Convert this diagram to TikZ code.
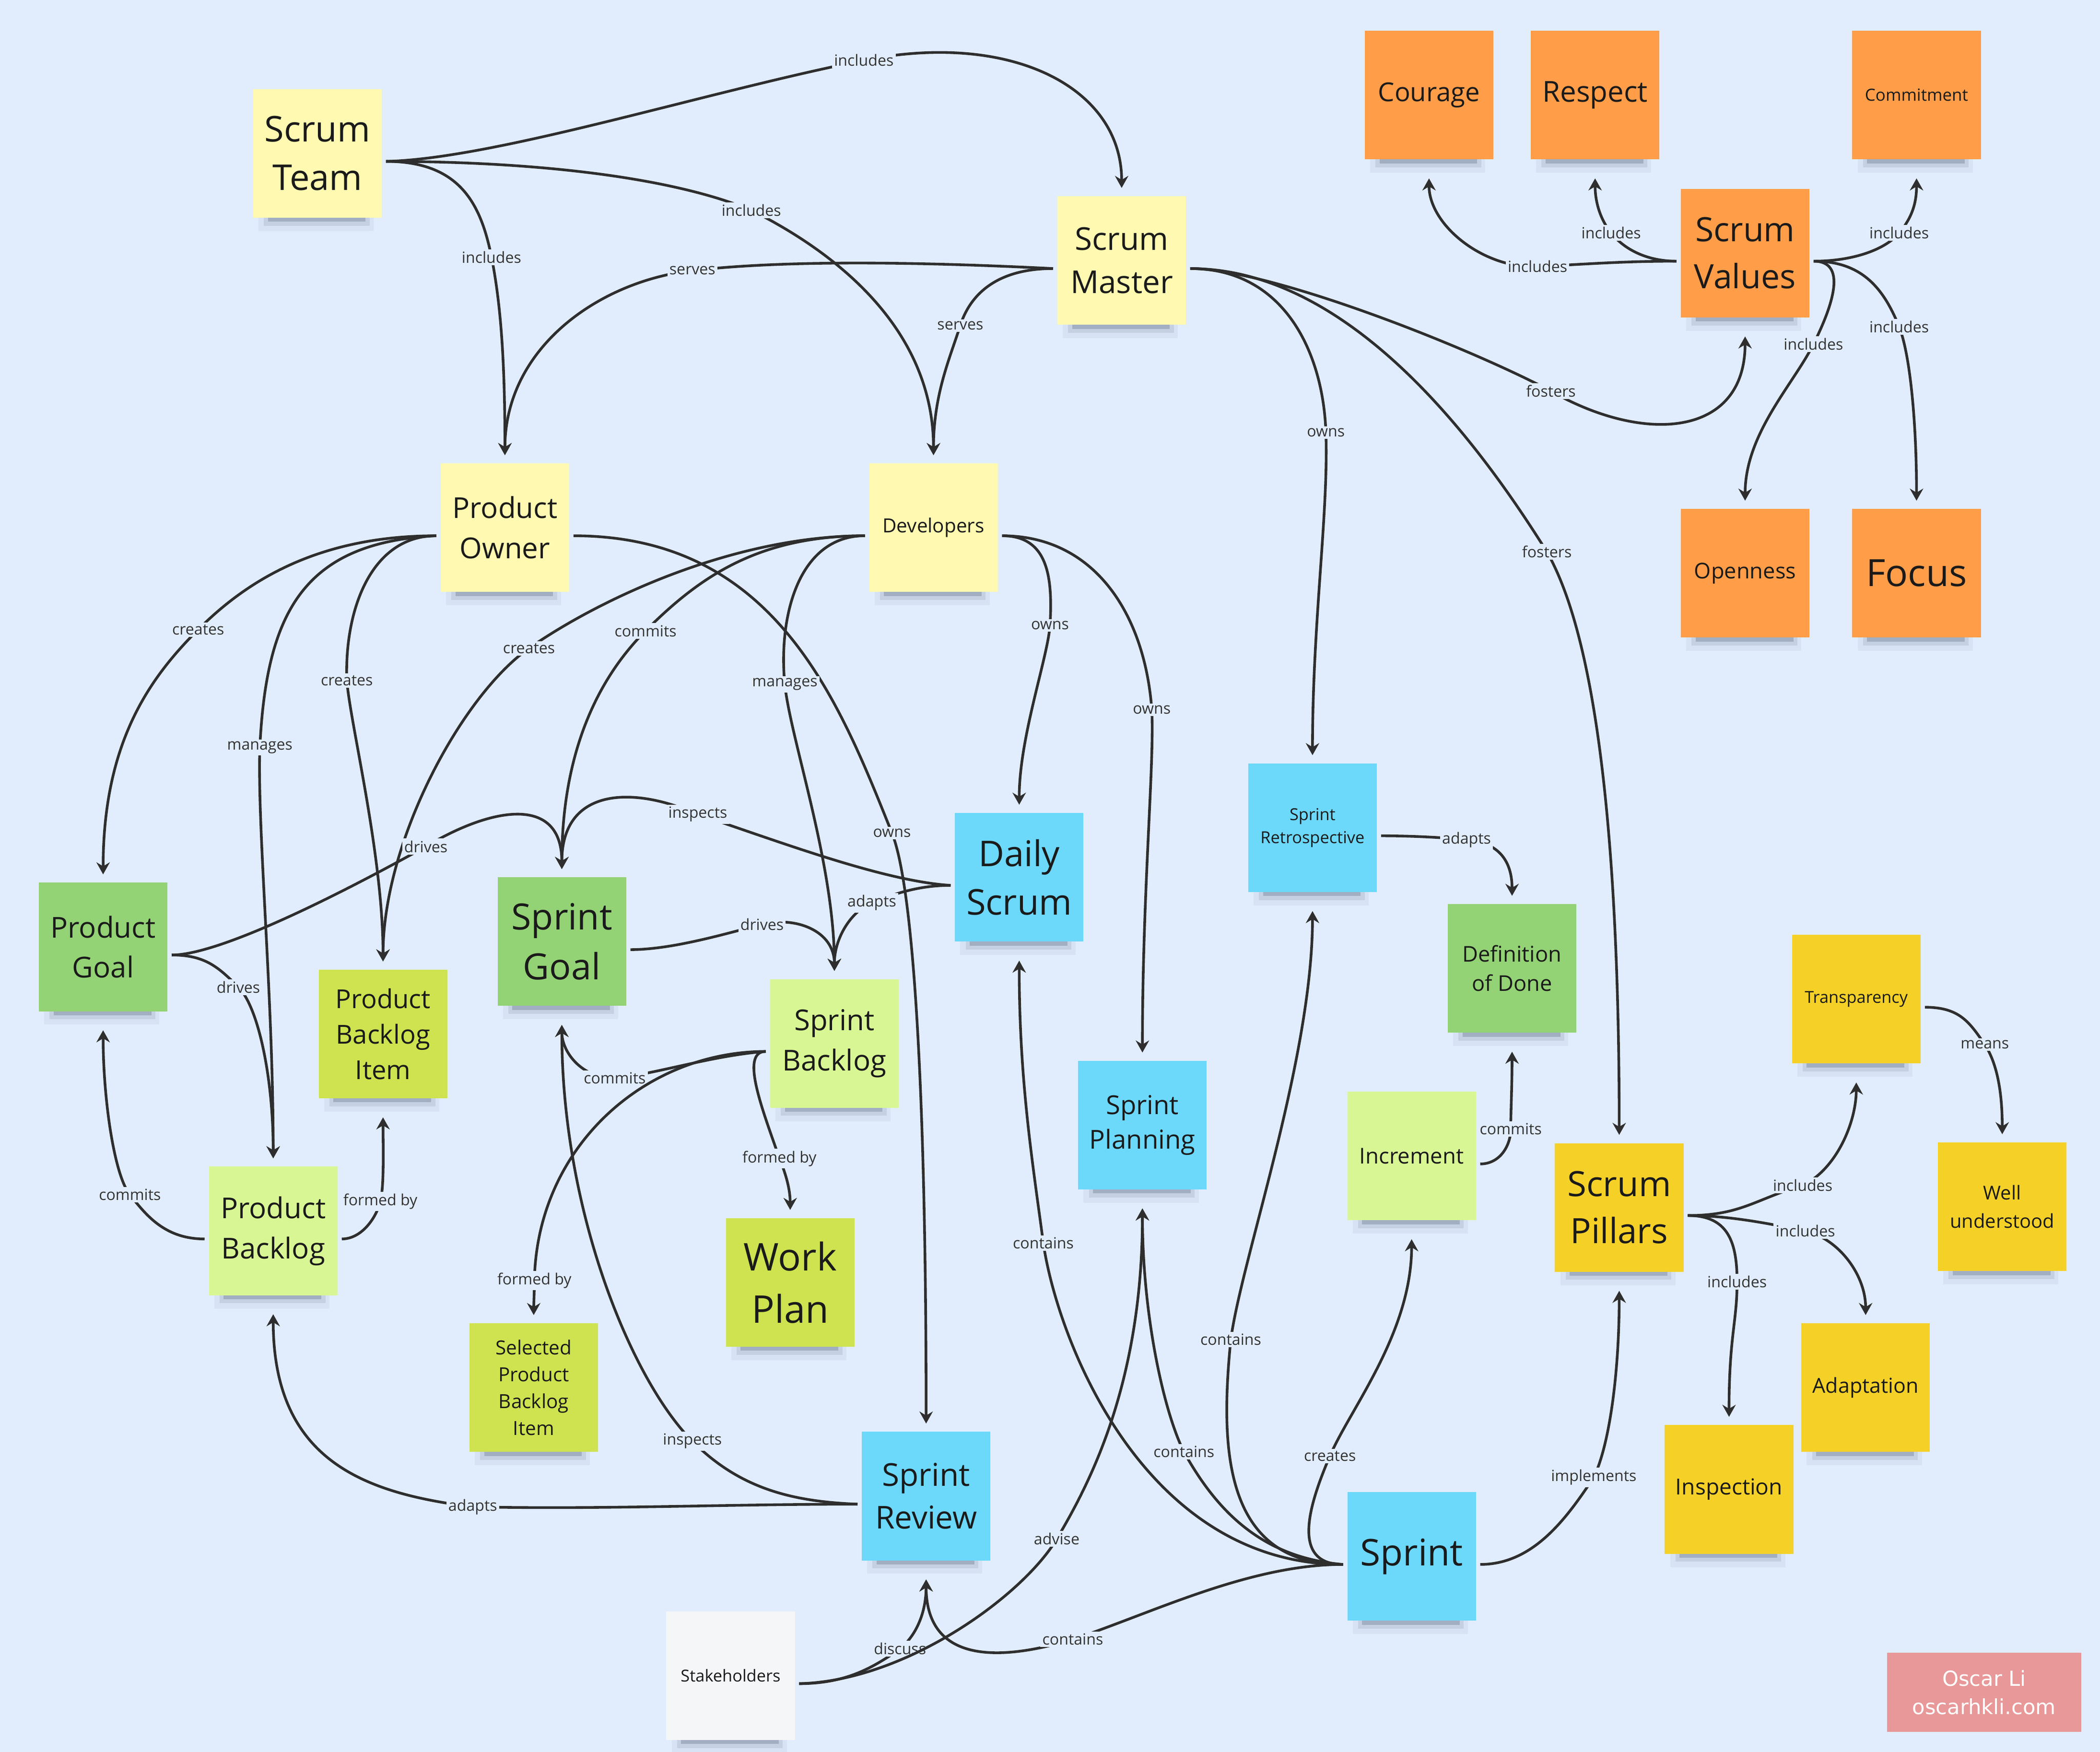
\documentclass[tikz,border=0pt]{standalone}
\usepackage{fontspec}
\setmainfont{Open Sans}
\newfontfamily\wmfont{DejaVu Sans}
\usetikzlibrary{arrows.meta}
\definecolor{bg}{HTML}{E1EDFD}
\definecolor{pyel}{HTML}{FFF9B1}
\definecolor{orng}{HTML}{FF9D48}
\definecolor{grn}{HTML}{93D275}
\definecolor{lime}{HTML}{CEE34F}
\definecolor{llime}{HTML}{D8F794}
\definecolor{blu}{HTML}{6CD8FA}
\definecolor{yel}{HTML}{F5D128}
\definecolor{wht}{HTML}{F5F6F8}
\definecolor{wmc}{HTML}{E89898}
\definecolor{edgec}{HTML}{2E2E2E}
\definecolor{notetext}{HTML}{1A1A1A}
\definecolor{lbltext}{HTML}{333333}
\definecolor{shc}{HTML}{2A3550}
\tikzset{
  note/.style={minimum width=96pt, minimum height=96pt, inner sep=0pt, align=center, text=notetext},
  lbl/.style={fill=bg, inner sep=1.5pt, text=lbltext, font=\fontsize{11.5}{13}\selectfont},
  arr/.style={draw=edgec, line width=2pt, -{Stealth[length=9pt,width=10pt,inset=3pt]}},
  shA/.style={fill=shc, opacity=0.05},
  shB/.style={fill=shc, opacity=0.10},
  shC/.style={fill=shc, opacity=0.22},
}
\newcommand\sticky[7]{%
  \fill[shA] ({#2-44},{#3+48}) rectangle ({#2+42},{#3+58});
  \fill[shB] ({#2-40},{#3+48}) rectangle ({#2+39},{#3+54});
  \fill[shC] ({#2-37},{#3+48}) rectangle ({#2+36},{#3+51});
  \node[note, fill=#4, font=\fontsize{#5}{#6}\selectfont] (#1) at (#2,#3) {#7};
  \coordinate (#1-E) at ([shift={(3,6)}]#1.east);
  \coordinate (#1-W) at ([shift={(-3,6)}]#1.west);
  \coordinate (#1-N) at ([shift={(0,-6)}]#1.north);
  \coordinate (#1-S) at ([shift={(0,14)}]#1.south);
}
\begin{document}
\begin{tikzpicture}[x=1pt,y=-1pt]
\fill[bg] (0,0) rectangle (1568,1308);
\useasboundingbox (0,0) rectangle (1568,1308);

% notes
\sticky{st}{237}{114.5}{pyel}{26.5}{36}{Scrum\\Team}
\sticky{sm}{837.5}{194.5}{pyel}{23.5}{32}{Scrum\\Master}
\sticky{po}{377}{394}{pyel}{21.5}{30}{Product\\Owner}
\sticky{dev}{697}{394}{pyel}{14.5}{20}{Developers}
\sticky{cou}{1067}{71}{orng}{19.5}{26}{Courage}
\sticky{res}{1191}{71}{orng}{21.5}{29}{Respect}
\sticky{com}{1431}{71}{orng}{12.5}{17}{Commitment}
\sticky{sv}{1303}{189}{orng}{25}{35}{Scrum\\Values}
\sticky{ope}{1303}{428}{orng}{16.2}{22}{Openness}
\sticky{foc}{1431}{428}{orng}{28}{38}{Focus}
\sticky{pg}{77}{707}{grn}{21.5}{30}{Product\\Goal}
\sticky{sg}{419.5}{703}{grn}{27}{37}{Sprint\\Goal}
\sticky{pbi}{286}{772}{lime}{19.5}{26.5}{Product\\Backlog\\Item}
\sticky{ds}{761}{655}{blu}{26.5}{36}{Daily\\Scrum}
\sticky{sr}{980}{618}{blu}{12.3}{17}{Sprint\\Retrospective}
\sticky{dod}{1129}{723}{grn}{16.2}{22}{Definition\\of Done}
\sticky{sb}{623}{779}{llime}{21.5}{30}{Sprint\\Backlog}
\sticky{spl}{853}{840}{blu}{19.5}{26}{Sprint\\Planning}
\sticky{inc}{1054}{863}{llime}{16.3}{22}{Increment}
\sticky{tra}{1386}{746}{yel}{12.3}{17}{Transparency}
\sticky{wu}{1495}{901}{yel}{14.3}{21}{Well\\understood}
\sticky{spi}{1209}{901.5}{yel}{26}{35}{Scrum\\Pillars}
\sticky{pb}{204}{919}{llime}{21.5}{30}{Product\\Backlog}
\sticky{wp}{590}{957.5}{lime}{28.5}{39}{Work\\Plan}
\sticky{spbi}{398.5}{1036}{lime}{14.5}{20}{Selected\\Product\\Backlog\\Item}
\sticky{ada}{1393}{1036}{yel}{15.4}{21}{Adaptation}
\sticky{ins}{1291}{1112}{yel}{16.5}{22}{Inspection}
\sticky{srev}{691.5}{1117}{blu}{23.5}{32}{Sprint\\Review}
\sticky{spr}{1054}{1162}{blu}{27.5}{37}{Sprint}
\sticky{stk}{545.5}{1251}{wht}{12.3}{17}{Stakeholders}

\node[fill=wmc, text=white, minimum width=145pt, minimum height=59pt, inner sep=0pt, align=center, font=\wmfont\fontsize{15.5}{21}\selectfont] (wm) at (1481.5,1263.5) {Oscar Li\\oscarhkli.com};

% connectors
\draw[arr] (st-E) .. controls +(82,-2) and +(-120,24) .. (645,45) node[lbl]{includes} .. controls +(110,-22) and +(0,-75) .. (sm-N);
\draw[arr] (st-E) .. controls +(55,0) and +(-8,-40) .. (367,192) node[lbl]{includes} .. controls +(8,40) and +(0,-60) .. (po-N);
\draw[arr] (st-E) .. controls +(110,0) and +(-60,-25) .. (561,157) node[lbl]{includes} .. controls +(70,35) and +(0,-90) .. (dev-N);
\draw[arr] (sm-W) .. controls +(-100,-5) and +(70,-8) .. (517,202) node[lbl]{serves} .. controls +(-70,8) and +(0,-80) .. (po-N);
\draw[arr] (sm-W) .. controls +(-40,0) and +(8,-25) .. (717,243) node[lbl]{serves} .. controls +(-8,25) and +(0,-45) .. (dev-N);
\draw[arr] (sm-E) .. controls +(60,0) and +(-60,-32) .. (1158,292) node[lbl]{fosters} .. controls +(70,40) and +(0,75) .. (sv-S);
\draw[arr] (sm-E) .. controls +(70,0) and +(-2,-60) .. (990,323) node[lbl]{owns} .. controls +(2,60) and +(0,-100) .. (sr-N);
\draw[arr] (sm-E) .. controls +(120,0) and +(-50,-80) .. (1155,412) node[lbl]{fosters} .. controls +(40,70) and +(0,-200) .. (spi-N);
\draw[arr] (sv-W) .. controls +(-40,0) and +(40,-2) .. (1148,199) node[lbl]{includes} .. controls +(-40,2) and +(0,35) .. (cou-S);
\draw[arr] (sv-W) .. controls +(-25,0) and +(8,10) .. (1203,174) node[lbl]{includes} .. controls +(-8,-10) and +(0,18) .. (res-S);
\draw[arr] (sv-E) .. controls +(30,0) and +(-10,12) .. (1418,174) node[lbl]{includes} .. controls +(10,-12) and +(0,18) .. (com-S);
\draw[arr] (sv-E) .. controls +(25,0) and +(15,-30) .. (1354,257) node[lbl]{includes} .. controls +(-15,30) and +(0,-50) .. (ope-N);
\draw[arr] (sv-E) .. controls +(35,0) and +(-12,-30) .. (1418,244) node[lbl]{includes} .. controls +(8,20) and +(0,-60) .. (foc-N);
\draw[arr] (po-W) .. controls +(-90,0) and +(35,-35) .. (148,470) node[lbl]{creates} .. controls +(-35,35) and +(0,-100) .. (pg-N);
\draw[arr] (po-W) .. controls +(-100,5) and +(5,-100) .. (194,558) node[lbl]{manages} .. controls +(-2,60) and +(0,-120) .. (pb-N);
\draw[arr] (po-W) .. controls +(-50,0) and +(-2,-50) .. (259,508) node[lbl]{creates} .. controls +(2,30) and +(0,-80) .. (pbi-N);
\draw[arr] (po-E) .. controls +(150,0) and +(-40,-100) .. (666,622) node[lbl]{owns} .. controls +(16,40) and +(0,-250) .. (srev-N);
\draw[arr] (dev-W) .. controls +(-50,0) and +(-5,-50) .. (586,511) node[lbl]{manages} .. controls +(4,40) and +(0,-80) .. (sb-N);
\draw[arr] (dev-W) .. controls +(-80,0) and +(40,-40) .. (482,471) node[lbl]{commits} .. controls +(-40,40) and +(0,-80) .. (sg-N);
\draw[arr] (dev-W) .. controls +(-100,0) and +(50,-35) .. (395,484) node[lbl]{creates} .. controls +(-50,35) and +(0,-90) .. (pbi-N);
\draw[arr] (dev-E) .. controls +(35,0) and +(2,-35) .. (784,467) node[lbl]{owns} .. controls +(-2,25) and +(0,-50) .. (ds-N);
\draw[arr] (dev-E) .. controls +(70,0) and +(-5,-70) .. (860,530) node[lbl]{owns} .. controls +(2,40) and +(0,-120) .. (spl-N);
\draw[arr] (pg-E) .. controls +(40,0) and +(-45,25) .. (318,632) node[lbl]{drives} .. controls +(50,-30) and +(0,-55) .. (sg-N);
\draw[arr] (pg-E) .. controls +(25,0) and +(-15,-15) .. (178,737) node[lbl]{drives} .. controls +(15,15) and +(0,-60) .. (pb-N);
\draw[arr] (pb-W) .. controls +(-30,0) and +(12,15) .. (97,892) node[lbl]{commits} .. controls +(-12,-15) and +(0,50) .. (pg-S);
\draw[arr] (pb-E) .. controls +(15,0) and +(-3,12) .. (284,897) node[lbl]{formed by} .. controls +(3,-12) and +(0,20) .. (pbi-S);
\draw[arr] (ds-W) .. controls +(-50,-3) and +(60,20) .. (521,608) node[lbl]{inspects} .. controls +(-50,-22) and +(0,-60) .. (sg-N);
\draw[arr] (ds-W) .. controls +(-25,0) and +(15,-6) .. (651,674) node[lbl]{adapts} .. controls +(-15,6) and +(0,-25) .. (sb-N);
\draw[arr] (sg-E) .. controls +(30,0) and +(-30,8) .. (569,690) node[lbl]{drives} .. controls +(25,-6) and +(0,-30) .. (sb-N);
\draw[arr] (sb-W) .. controls +(-40,3) and +(30,-3) .. (459,805) node[lbl]{commits} .. controls +(-25,0) and +(0,20) .. (sg-S);
\draw[arr] (sb-W) .. controls +(-90,0) and +(2,-100) .. (399,956) node[lbl]{formed by} .. controls +(0,8) and +(0,-8) .. (spbi-N);
\draw[arr] (sb-W) .. controls +(-20,0) and +(-12,-35) .. (582,865) node[lbl]{formed by} .. controls +(5,12) and +(0,-15) .. (wp-N);
\draw[arr] (sr-E) .. controls +(20,0) and +(-20,-2) .. (1095,627) node[lbl]{adapts} .. controls +(25,2) and +(0,-25) .. (dod-N);
\draw[arr] (inc-E) .. controls +(15,0) and +(0,12) .. (1128,843) node[lbl]{commits} .. controls +(0,-12) and +(0,25) .. (dod-S);
\draw[arr] (spi-E) .. controls +(40,0) and +(-35,10) .. (1346,885) node[lbl]{includes} .. controls +(25,-12) and +(0,30) .. (tra-S);
\draw[arr] (spi-E) .. controls +(30,0) and +(-30,-6) .. (1348,919) node[lbl]{includes} .. controls +(25,6) and +(0,-30) .. (ada-N);
\draw[arr] (spi-E) .. controls +(30,0) and +(0,-30) .. (1297,957) node[lbl]{includes} .. controls +(0,30) and +(0,-60) .. (ins-N);
\draw[arr] (tra-E) .. controls +(25,0) and +(-12,-18) .. (1482,780) node[lbl]{means} .. controls +(8,12) and +(0,-35) .. (wu-N);
\draw[arr] (spr-E) .. controls +(40,0) and +(-20,30) .. (1190,1103) node[lbl]{implements} .. controls +(12,-25) and +(0,60) .. (spi-S);
\draw[arr] (spr-W) .. controls +(-40,0) and +(-15,35) .. (993,1087) node[lbl]{creates} .. controls +(15,-35) and +(0,70) .. (inc-S);
\draw[arr] (spr-W) .. controls +(-90,0) and +(-8,80) .. (919,1000) node[lbl]{contains} .. controls +(8,-60) and +(0,110) .. (sr-S);
\draw[arr] (spr-W) .. controls +(-60,-5) and +(25,45) .. (884,1084) node[lbl]{contains} .. controls +(-15,-30) and +(0,80) .. (spl-S);
\draw[arr] (spr-W) .. controls +(-150,0) and +(10,70) .. (779,928) node[lbl]{contains} .. controls +(-8,-60) and +(0,90) .. (ds-S);
\draw[arr] (spr-W) .. controls +(-70,0) and +(60,-20) .. (801,1224) node[lbl]{contains} .. controls +(-60,18) and +(0,60) .. (srev-S);
\draw[arr] (srev-W) .. controls +(-50,-2) and +(35,35) .. (517,1076) node[lbl]{inspects} .. controls +(-45,-45) and +(0,140) .. (sg-S);
\draw[arr] (srev-W) .. controls +(-100,0) and +(100,2) .. (353,1125) node[lbl]{adapts} .. controls +(-80,-10) and +(0,110) .. (pb-S);
\draw[arr] (stk-E) .. controls +(35,0) and +(-20,14) .. (672,1231) node[lbl]{discuss} .. controls +(12,-10) and +(0,25) .. (srev-S);
\draw[arr] (stk-E) .. controls +(80,-2) and +(-25,42) .. (789,1149) node[lbl]{advise} .. controls +(25,-42) and +(0,130) .. (spl-S);
\end{tikzpicture}
\end{document}
